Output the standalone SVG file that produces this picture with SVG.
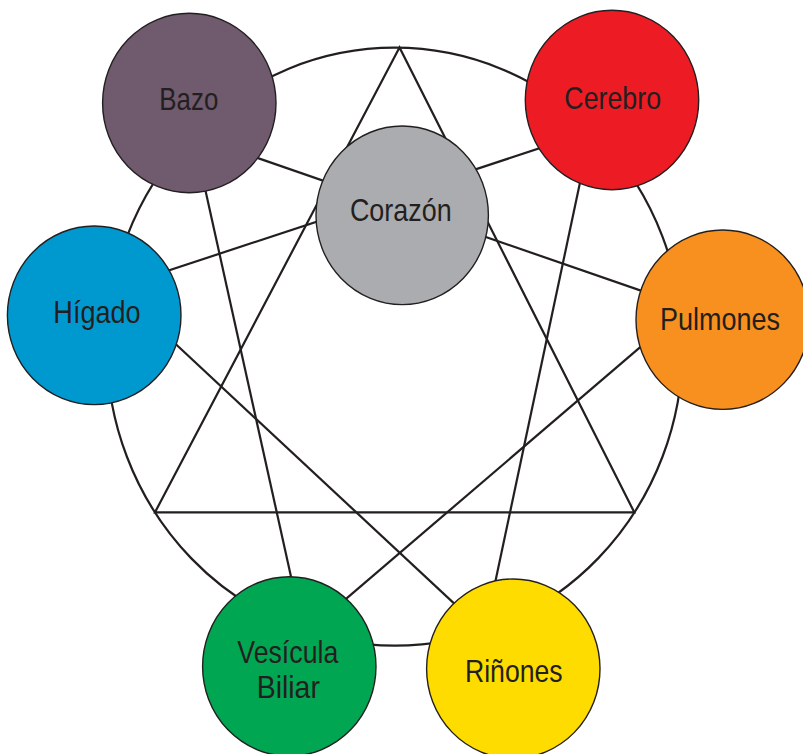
<svg xmlns="http://www.w3.org/2000/svg" width="803" height="754" viewBox="0 0 803 754">
<style>
.ln{fill:none;stroke:#231f20;stroke-width:2.2;stroke-linejoin:miter}
.nd{stroke:#231f20;stroke-width:1.4}
.tx{font-family:"Liberation Sans",Arial,sans-serif;font-size:32px;fill:#231f20;text-anchor:middle}
</style>
<rect width="803" height="754" fill="#ffffff"/>
<g id="connectors">
<ellipse class="ln" cx="394.7" cy="346.7" rx="288" ry="299"/>
<polygon class="ln" points="399.5,47.5 155,512.3 634.3,512.3"/>
<line class="ln" x1="120" y1="286.5" x2="580" y2="134.9"/>
<line class="ln" x1="220" y1="145" x2="690" y2="307.6"/>
<line class="ln" x1="196.5" y1="150" x2="300.6" y2="620"/>
<line class="ln" x1="586.9" y1="150" x2="487.2" y2="620"/>
<line class="ln" x1="140" y1="310.8" x2="490" y2="636.9"/>
<line class="ln" x1="680" y1="313.1" x2="320" y2="621.2"/>
</g>
<g id="bazo">
<ellipse class="nd" cx="189.3" cy="103" rx="86.7" ry="89.7" fill="#6f5a6e"/>
<text class="tx" x="188.8" y="109.5" textLength="59" lengthAdjust="spacingAndGlyphs">Bazo</text>
</g>
<g id="cerebro">
<ellipse class="nd" cx="612" cy="100" rx="86.7" ry="89.7" fill="#ed1c24"/>
<text class="tx" x="612.7" y="109.3" textLength="96.7" lengthAdjust="spacingAndGlyphs">Cerebro</text>
</g>
<g id="corazon">
<ellipse class="nd" cx="402.2" cy="215.3" rx="86.2" ry="89.3" fill="#abacaf"/>
<text class="tx" x="400.8" y="220.7" textLength="101.7" lengthAdjust="spacingAndGlyphs">Corazón</text>
</g>
<g id="higado">
<ellipse class="nd" cx="94.2" cy="315.3" rx="86.8" ry="89.3" fill="#0099cf"/>
<text class="tx" x="97" y="323.3" textLength="87.3" lengthAdjust="spacingAndGlyphs">Hígado</text>
</g>
<g id="pulmones">
<ellipse class="nd" cx="722.7" cy="319.7" rx="86.7" ry="89.7" fill="#f7901e"/>
<text class="tx" x="720" y="330" textLength="120" lengthAdjust="spacingAndGlyphs">Pulmones</text>
</g>
<g id="vesicula">
<ellipse class="nd" cx="289.3" cy="666.4" rx="86.7" ry="89.7" fill="#00a651"/>
<text class="tx" x="287.8" y="663.3" textLength="101" lengthAdjust="spacingAndGlyphs">Vesícula</text>
<text class="tx" x="288.3" y="698.3" textLength="63.3" lengthAdjust="spacingAndGlyphs">Biliar</text>
</g>
<g id="rinones">
<ellipse class="nd" cx="513.3" cy="668.7" rx="86.7" ry="89.7" fill="#ffdc00"/>
<text class="tx" x="513.8" y="681.7" textLength="97.7" lengthAdjust="spacingAndGlyphs">Riñones</text>
</g>
</svg>
